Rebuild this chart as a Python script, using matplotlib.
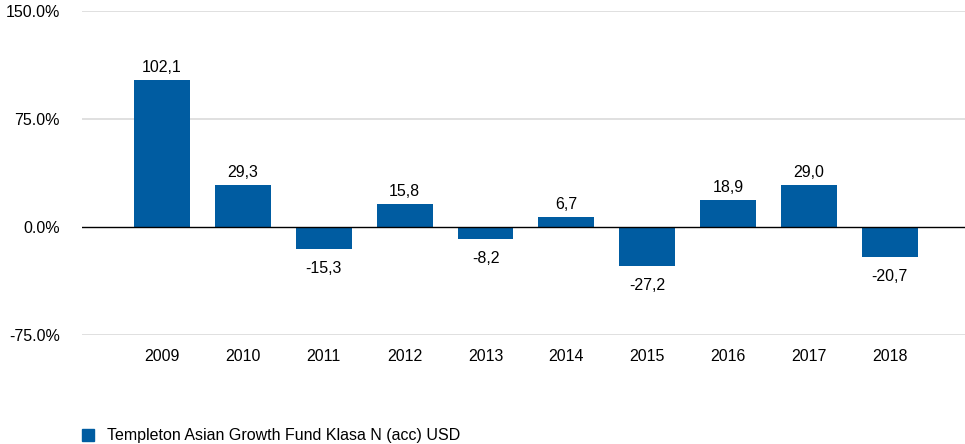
import numpy as np
import matplotlib.pyplot as plt

plt.rcParams['font.family'] = ['Liberation Sans', 'DejaVu Sans']

# roczne stopy zwrotu funduszu (%)
years = ['2009', '2010', '2011', '2012', '2013', '2014', '2015', '2016', '2017', '2018']
returns = [102.1, 29.3, -15.3, 15.8, -8.2, 6.7, -27.2, 18.9, 29.0, -20.7]
yticks = [-75, 0, 75, 150]
series_name = 'Templeton Asian Growth Fund Klasa N (acc) USD'

bar_color = '#005CA1'

fig = plt.figure(figsize=(9.65, 4.44), dpi=100)
ax = fig.add_axes([0.085, 0.2455, 0.915, 0.7295])

x = np.arange(len(years))
ax.bar(x, returns, width=0.69, color=bar_color, zorder=3)

# etykiety z wartosciami nad / pod slupkami
for xi, v in zip(x, returns):
    txt = '{:.1f}'.format(v).replace('.', ',')
    if v >= 0:
        ax.annotate(txt, (xi, v), xytext=(0, 9), textcoords='offset points',
                    ha='center', va='center', fontsize=11.5)
    else:
        ax.annotate(txt, (xi, v), xytext=(0, -14), textcoords='offset points',
                    ha='center', va='center', fontsize=11.5)

ax.set_xlim(-0.99, 9.93)
ax.set_ylim(-75, 150)
ax.set_yticks(yticks)
ax.set_yticklabels(['{:.1f}%'.format(t) for t in yticks], fontsize=11.5)
ax.set_xticks(x)
ax.set_xticklabels(years, fontsize=11.5)
ax.tick_params(axis='both', length=0)
ax.tick_params(axis='y', pad=16)
ax.tick_params(axis='x', pad=10)

for t in yticks:
    if t == 0:
        ax.axhline(0, color='black', linewidth=1.0, zorder=4)
    else:
        ax.axhline(t, color='#dadada', linewidth=1.2, zorder=1)

for s in ax.spines.values():
    s.set_visible(False)

# legenda na dole
fig.patches.append(plt.Rectangle((82 / 965, 1 - 441 / 444), 12 / 965, 12 / 444,
                                 transform=fig.transFigure, color=bar_color))
fig.text(107 / 965, 1 - 435 / 444, series_name, fontsize=11.5, va='center', ha='left')

plt.savefig('out.png', dpi=100)
